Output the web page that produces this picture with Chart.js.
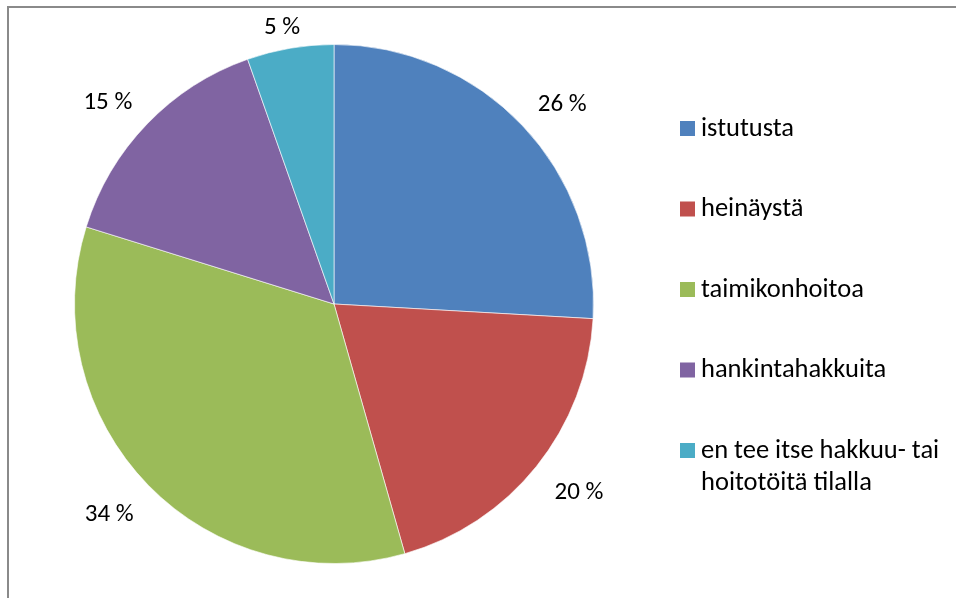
<!DOCTYPE html>
<html>
<head>
<meta charset="utf-8">
<script src="https://cdn.jsdelivr.net/npm/chart.js@4.4.1/dist/chart.umd.min.js"></script>
<style>
  html, body { margin: 0; padding: 0; background: #fff; }
  #wrap { position: relative; width: 956px; height: 598px; }
</style>
</head>
<body>
<div id="wrap"><canvas id="pie" width="956" height="598"></canvas></div>
<script>
// values (shares in %)
var categories = ['istutusta', 'heinäystä', 'taimikonhoitoa', 'hankintahakkuita', 'en tee itse hakkuu- tai hoitotöitä tilalla'];
var shares = [25.9, 19.7, 34.2, 14.8, 5.4];
var sliceColors = ['#4F81BD', '#C0504D', '#9BBB59', '#8064A2', '#4BACC6'];

var labelFont = '25px Carlito, Calibri, Lato, "Open Sans", sans-serif';
var legendFont = '26.5px Carlito, Calibri, Lato, "Open Sans", sans-serif';

// grey frame, like the Excel chart area border
var framePlugin = {
    id: 'frame',
    beforeDraw: function (chart) {
        var c = chart.ctx;
        c.save();
        c.strokeStyle = '#8a8a8a';
        c.lineWidth = 2;
        c.beginPath();
        c.moveTo(8, chart.height);
        c.lineTo(8, 7);
        c.lineTo(chart.width, 7);
        c.stroke();
        c.restore();
    }
};

// percent labels outside each slice
var outsideLabels = {
    id: 'outsideLabels',
    afterDatasetsDraw: function (chart) {
        var c = chart.ctx;
        var meta = chart.getDatasetMeta(0);
        c.save();
        c.font = labelFont;
        c.fillStyle = '#000';
        c.textAlign = 'center';
        c.textBaseline = 'middle';
        meta.data.forEach(function (arc, i) {
            var p = arc.getProps(['x', 'y', 'startAngle', 'endAngle', 'outerRadius'], true);
            var mid = (p.startAngle + p.endAngle) / 2;
            var txt = Math.round(shares[i]) + ' %';
            var w = c.measureText(txt).width;
            var r = p.outerRadius + 30;
            var cx = p.x + Math.cos(mid) * r + Math.cos(mid) * w / 2;
            var cy = p.y + Math.sin(mid) * r + Math.sin(mid) * 6 + 4;
            if (cy < 28) cy = 28;
            c.fillText(txt, cx, cy);
        });
        c.restore();
    }
};

// legend on the right, with wrapping of long entries
var sideLegend = {
    id: 'sideLegend',
    afterDraw: function (chart) {
        var c = chart.ctx;
        var x = 680, y = 128, step = 80.5, lineH = 32, maxW = 262;
        c.save();
        c.font = legendFont;
        c.textBaseline = 'middle';
        categories.forEach(function (name, i) {
            c.fillStyle = sliceColors[i];
            c.fillRect(x, y + i * step - 7, 15, 15);
            c.fillStyle = '#000';
            var words = name.split(' ');
            var line = '', lines = [];
            words.forEach(function (wd) {
                var test = line ? line + ' ' + wd : wd;
                if (c.measureText(test).width > maxW && line) {
                    lines.push(line);
                    line = wd;
                } else {
                    line = test;
                }
            });
            lines.push(line);
            lines.forEach(function (ln, k) {
                c.fillText(ln, x + 21, y + i * step + k * lineH + 1);
            });
        });
        c.restore();
    }
};

var pieChart = new Chart(document.getElementById('pie'), {
    type: 'pie',
    data: {
        labels: categories,
        datasets: [{
            data: shares,
            backgroundColor: sliceColors,
            borderColor: 'rgba(255,255,255,0.6)',
            borderWidth: 1
        }]
    },
    options: {
        responsive: false,
        animation: false,
        layout: { padding: { left: 74, right: 362, top: 44, bottom: 34 } },
        plugins: {
            legend: { display: false },
            tooltip: { enabled: false }
        }
    },
    plugins: [framePlugin, outsideLabels, sideLegend]
});
</script>
</body>
</html>
